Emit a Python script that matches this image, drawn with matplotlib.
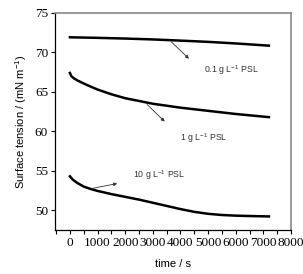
import matplotlib
matplotlib.use('Agg')
import matplotlib.pyplot as plt
from matplotlib.ticker import MultipleLocator

plt.rcParams['mathtext.fontset'] = 'custom'
plt.rcParams['mathtext.rm'] = 'Liberation Sans'
plt.rcParams['mathtext.it'] = 'Liberation Sans:italic'
plt.rcParams['mathtext.bf'] = 'Liberation Sans:bold'
plt.rcParams['mathtext.default'] = 'rm'

# time (s) and surface tension (mN/m)
t_01 = [0, 1000, 2000, 3000, 4000, 5000, 6000, 7200]
st_01 = [71.92, 71.85, 71.76, 71.65, 71.5, 71.34, 71.14, 70.86]

t_1 = [0, 50, 150, 300, 600, 1000, 1500, 2000, 2500, 3000, 4000, 5000, 6000, 7200]
st_1 = [67.4, 67.0, 66.7, 66.4, 65.9, 65.3, 64.7, 64.2, 63.85, 63.5, 63.0, 62.6, 62.2, 61.8]

t_10 = [0, 100, 250, 500, 750, 1000, 1500, 2000, 2500, 3000, 3500, 4000, 4500, 5000, 5500, 6000, 6500, 7200]
st_10 = [54.3, 53.9, 53.5, 53.0, 52.7, 52.45, 52.05, 51.7, 51.35, 50.95, 50.55, 50.15, 49.8,
         49.55, 49.4, 49.32, 49.27, 49.22]

labels = ['0.1 g L$^{-1}$ PSL', '1 g L$^{-1}$ PSL', '10 g L$^{-1}$ PSL']
arrow_from = [(3590, 71.6), (2720, 63.65), (700, 52.7)]
arrow_to = [(4380, 68.96), (3500, 61.0), (1810, 53.45)]
text_pos = [(4850, 67.8), (3990, 59.2), (2280, 54.4)]

fig = plt.figure(figsize=(3.03, 2.74), dpi=100)
ax = fig.add_axes([0.1815, 0.1606, 0.779, 0.792])

for t, s in [(t_01, st_01), (t_1, st_1), (t_10, st_10)]:
    ax.plot(t, s, c='black', lw=1.8)

for lab, a, b, p in zip(labels, arrow_from, arrow_to, text_pos):
    ax.annotate('', xy=b, xytext=a,
                arrowprops=dict(arrowstyle='-|>', color='#333333', lw=0.6,
                                mutation_scale=5))
    ax.text(p[0], p[1], lab, fontsize=6.3, color='#333333',
            family='Liberation Sans', va='center', ha='left')

ax.set_xlim(-540, 8000)
ax.set_ylim(47.5, 75)
ax.xaxis.set_major_locator(MultipleLocator(1000))
ax.xaxis.set_minor_locator(MultipleLocator(500))
ax.yaxis.set_major_locator(MultipleLocator(5))
ax.tick_params(axis='both', which='both', direction='out', length=3, width=0.8,
               labelsize=9.5, pad=2)
for lb in ax.get_xticklabels() + ax.get_yticklabels():
    lb.set_family('Liberation Serif')

for sp in ['top', 'right']:
    ax.spines[sp].set_color('#888888')
    ax.spines[sp].set_linewidth(1.2)
for sp in ['left', 'bottom']:
    ax.spines[sp].set_linewidth(0.9)

ax.set_xlabel('time / s', fontsize=8, family='Liberation Sans', labelpad=7)
ax.set_ylabel('Surface tension / (mN m$^{-1}$)', fontsize=8, family='Liberation Sans',
              labelpad=4)

fig.savefig('out.png', dpi=100)
